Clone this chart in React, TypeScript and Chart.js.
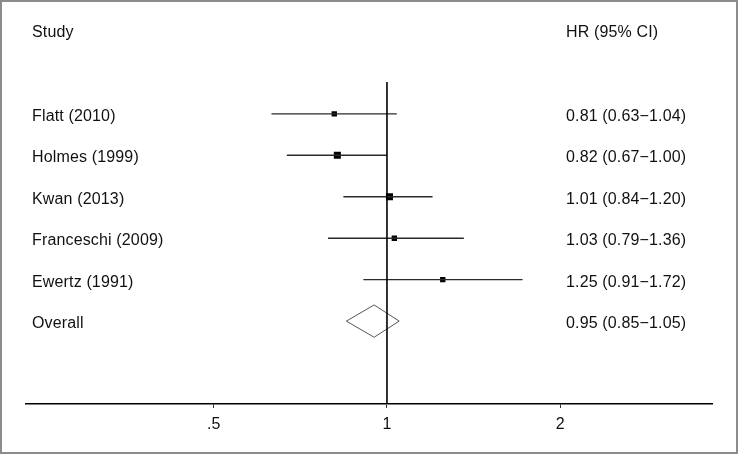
import React, { useEffect, useRef } from 'react';
import { Chart, registerables } from 'chart.js';

Chart.register(...registerables);

// ---- data ----
const studies = ['Flatt (2010)', 'Holmes (1999)', 'Kwan (2013)', 'Franceschi (2009)', 'Ewertz (1991)'];
const hr = [0.81, 0.82, 1.01, 1.03, 1.25];
const lower = [0.63, 0.67, 0.84, 0.79, 0.91];
const upper = [1.04, 1.0, 1.2, 1.36, 1.72];
const overallLabel = 'Overall';
const overallHr = 0.95;
const overallLower = 0.85;
const overallUpper = 1.05;
const tickValues = [0.5, 1, 2];
const tickLabels = ['.5', '1', '2'];
const headerLeft = 'Study';
const headerRight = 'HR (95% CI)';

// ---- styles ----
const markerRadius = [3.8, 5, 5, 3.8, 3.8];
const FONT = '"Liberation Sans", Arial, sans-serif';

const fmt = (v: number) => v.toFixed(2);
const ciText = (h: number, l: number, u: number) => `${fmt(h)} (${fmt(l)}\u2212${fmt(u)})`;

export default function App() {
  const ref = useRef<HTMLCanvasElement | null>(null);

  useEffect(() => {
    if (!ref.current) return;
    const overallRow = studies.length + 1;
    const dh = 0.39;

    const ciSets = studies.map((_, i) => ({
      data: [
        { x: lower[i], y: i + 1 },
        { x: upper[i], y: i + 1 },
      ],
      showLine: true,
      borderColor: '#2a2a2a',
      borderWidth: 1.4,
      pointRadius: 0,
      clip: false as any,
    }));

    const textPlugin = {
      id: 'forestText',
      afterDraw(chart: any) {
        const ctx = chart.ctx as CanvasRenderingContext2D;
        const yS = chart.scales.y;
        ctx.save();
        ctx.font = `16px ${FONT}`;
        ctx.fillStyle = '#111';
        ctx.textBaseline = 'alphabetic';
        ctx.textAlign = 'left';
        (ctx as any).letterSpacing = '0.15px';
        const lx = 30;
        const rx = 564;
        const off = 7;
        ctx.fillText(headerLeft, lx, yS.getPixelForValue(-1) + off - 0.5);
        ctx.fillText(headerRight, rx, yS.getPixelForValue(-1) + off - 0.5);
        studies.forEach((s, i) => {
          const y = yS.getPixelForValue(i + 1) + off;
          ctx.fillText(s, lx, y);
          ctx.fillText(ciText(hr[i], lower[i], upper[i]), rx, y);
        });
        const oy = yS.getPixelForValue(overallRow) + off;
        ctx.fillText(overallLabel, lx, oy);
        ctx.fillText(ciText(overallHr, overallLower, overallUpper), rx, oy);
        ctx.restore();
      },
    };

    const chart = new Chart(ref.current, {
      type: 'scatter',
      data: {
        datasets: [
          {
            data: [
              { x: 1, y: 0.23 },
              { x: 1, y: 8 },
            ],
            showLine: true,
            borderColor: '#000',
            borderWidth: 1.6,
            pointRadius: 0,
          },
          ...ciSets,
          {
            data: hr.map((v, i) => ({ x: v, y: i + 1 })),
            pointStyle: 'rect',
            pointRadius: markerRadius,
            backgroundColor: '#000',
            borderColor: '#000',
            borderWidth: 0,
          },
          {
            data: [
              { x: overallLower, y: overallRow },
              { x: overallHr, y: overallRow - dh },
              { x: overallUpper, y: overallRow },
              { x: overallHr, y: overallRow + dh },
              { x: overallLower, y: overallRow },
            ],
            showLine: true,
            fill: false,
            borderColor: '#555',
            borderWidth: 1,
            pointRadius: 0,
            tension: 0,
          },
        ] as any,
      },
      options: {
        responsive: false,
        animation: false,
        devicePixelRatio: 1,
        layout: { padding: { left: 24, right: 24, top: 70.4, bottom: 11.8 } },
        plugins: { legend: { display: false }, tooltip: { enabled: false } },
        scales: {
          x: {
            type: 'logarithmic',
            min: 0.236,
            max: 3.67,
            afterBuildTicks: (scale: any) => {
              scale.ticks = tickValues.map((v) => ({ value: v }));
            },
            grid: { drawOnChartArea: false, drawTicks: true, tickLength: 4, color: '#333', lineWidth: 1 },
            border: { display: true, color: '#000', width: 1.5 },
            ticks: {
              autoSkip: false,
              maxRotation: 0,
              padding: 6.5,
              color: '#111',
              font: { size: 16, family: FONT },
              callback: (value: any) => {
                const i = tickValues.findIndex((t) => Math.abs(t - Number(value)) < 1e-9);
                return i >= 0 ? tickLabels[i] : '';
              },
            },
          },
          y: { type: 'linear', display: false, min: 0, max: 8, reverse: true },
        },
      } as any,
      plugins: [textPlugin],
    });
    return () => chart.destroy();
  }, []);

  return (
    <div
      style={{
        position: 'absolute',
        left: 0,
        top: 0,
        width: 738,
        height: 454,
        boxSizing: 'border-box',
        border: '2px solid #8c8c8c',
        background: '#fff',
      }}
    >
      <canvas ref={ref} width={734} height={450} style={{ display: 'block' }} />
    </div>
  );
}
